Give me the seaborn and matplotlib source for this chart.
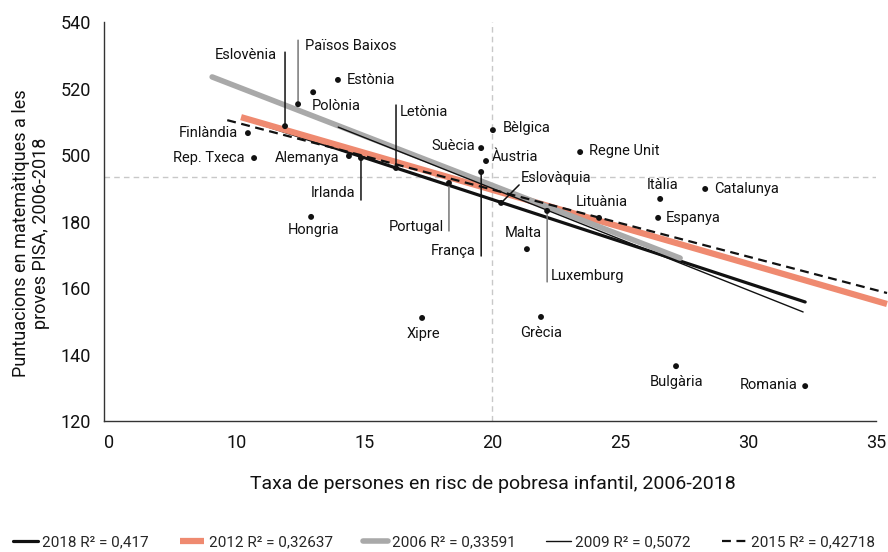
import pandas as pd
import seaborn as sns
import matplotlib.pyplot as plt
from matplotlib.ticker import FixedLocator

# punts: taxa de risc de pobresa infantil vs puntuació PISA matemàtiques
countries = ["Eslovènia", "Països Baixos", "Polònia", "Estònia", "Letònia", "Finlàndia",
             "Rep. Txeca", "Alemanya", "Irlanda", "Hongria", "Xipre", "Portugal", "França",
             "Suècia", "Àustria", "Bèlgica", "Eslovàquia", "Malta", "Luxemburg", "Grècia",
             "Regne Unit", "Lituània", "Itàlia", "Espanya", "Catalunya", "Bulgària", "Romania"]
poverty = [11.89, 12.40, 12.99, 13.96, 16.23, 10.44,
           10.68, 14.39, 14.86, 12.91, 17.25, 18.30, 19.56,
           19.56, 19.75, 20.02, 20.34, 21.35, 22.14, 21.90,
           23.43, 24.17, 26.56, 26.48, 28.32, 27.18, 32.23]
pisa = [508.7, 515.3, 518.9, 522.6, 496.1, 506.6,
        499.1, 499.7, 499.1, 481.4, 451.0, 491.6, 494.9,
        502.1, 498.2, 507.5, 485.6, 471.7, 483.2, 451.3,
        500.9, 481.1, 486.8, 481.1, 489.8, 436.5, 430.5]

# línies de tendència (extrems)
trend_years = ["2018", "2012", "2006", "2009", "2015"]
trend_r2 = ["0,417", "0,32637", "0,33591", "0,5072", "0,42718"]
trend_x0 = [10.52, 10.17, 9.04, 13.97, 9.63]
trend_x1 = [32.23, 35.43, 27.34, 32.15, 35.43]
trend_y0 = [510.5, 511.4, 523.5, 508.4, 510.5]
trend_y1 = [455.8, 455.2, 469.0, 452.8, 458.5]

# mitjanes (línies discontínues grises)
mean_x = 20.0
mean_y = 493.4

x_ticks = [5, 10, 15, 20, 25, 30, 35]
x_tick_labels = ["0", "10", "15", "20", "25", "30", "35"]
y_ticks = [420, 440, 460, 480, 500, 520, 540]
y_tick_labels = ["120", "140", "160", "180", "500", "520", "540"]

# estils
trend_style = {
    "2018": dict(color="#111111", lw=2.3, ls="-"),
    "2012": dict(color="#ef8a70", lw=4.5, ls="-", solid_capstyle="butt"),
    "2006": dict(color="#a9a9a9", lw=4.0, ls="-", solid_capstyle="round"),
    "2009": dict(color="#111111", lw=1.0, ls="-"),
    "2015": dict(color="#111111", lw=1.6, ls=(0, (4, 2.5))),
}
# (dx, dy, ha, leader end, leader colour) en píxels
label_pos = {
    "Eslovènia": (-8, 71, "right", (0, 74), "#111111"),
    "Països Baixos": (7, 58, "left", (0, 64), "#777777"),
    "Polònia": (-1, -14, "left", None, None),
    "Estònia": (9, 0, "left", None, None),
    "Letònia": (4, 56, "left", (0, 63), "#111111"),
    "Finlàndia": (-10, 0, "right", None, None),
    "Rep. Txeca": (-9, 0, "right", None, None),
    "Alemanya": (-9, -2, "right", None, None),
    "Irlanda": (-6, -35, "right", (0, -42), "#111111"),
    "Hongria": (2, -13, "center", None, None),
    "Xipre": (1, -16, "center", None, None),
    "Portugal": (-5, -44, "right", (0, -48), "#777777"),
    "França": (-6, -79, "right", (0, -84), "#111111"),
    "Suècia": (-6, 2, "right", None, None),
    "Àustria": (6, 4, "left", None, None),
    "Bèlgica": (10, 2, "left", None, None),
    "Eslovàquia": (20, 25, "left", (18, 18), "#111111"),
    "Malta": (-4, 16, "center", None, None),
    "Luxemburg": (4, -65, "left", (0, -71), "#777777"),
    "Grècia": (0, -16, "center", None, None),
    "Regne Unit": (9, 1, "left", None, None),
    "Lituània": (3, 16, "center", None, None),
    "Itàlia": (2, 14, "center", None, None),
    "Espanya": (8, 0, "left", None, None),
    "Catalunya": (9, 0, "left", None, None),
    "Bulgària": (1, -16, "center", None, None),
    "Romania": (-8, 1, "right", None, None),
}

sns.set_theme(style="white")
plt.rcParams["font.family"] = ["Roboto", "DejaVu Sans"]

df = pd.DataFrame({"pais": countries, "pobresa": poverty, "pisa": pisa})

fig = plt.figure(figsize=(8.88, 5.52), dpi=100)
ax = fig.add_axes([0.1168, 0.2373, 0.8697, 0.7227])

ax.axhline(mean_y, color="#c8c8c8", lw=1, ls=(0, (4, 3)), zorder=0)
ax.axvline(mean_x, color="#c8c8c8", lw=1, ls=(0, (4, 3)), zorder=0)

for yr, r2, x0, x1, y0, y1 in zip(trend_years, trend_r2, trend_x0, trend_x1, trend_y0, trend_y1):
    sns.lineplot(x=[x0, x1], y=[y0, y1], ax=ax, label=f"{yr} R² = {r2}",
                 clip_on=False, zorder=2, **trend_style[yr])

sns.scatterplot(data=df, x="pobresa", y="pisa", ax=ax, color="#111111", s=18,
                edgecolor="none", zorder=4, legend=False)

for name, x, y in zip(countries, poverty, pisa):
    dx, dy, ha, leader, lc = label_pos[name]
    if leader is not None:
        ax.annotate("", xy=(x, y), xytext=leader, textcoords="offset pixels",
                    arrowprops=dict(arrowstyle="-", color=lc, lw=1.1, shrinkA=0, shrinkB=0),
                    zorder=3)
    ax.annotate(name, xy=(x, y), xytext=(dx, dy), textcoords="offset pixels",
                ha=ha, va="center", fontsize=10.5, color="#111111", zorder=5)

ax.set_xlim(4.8, 35)
ax.set_ylim(420, 540)
ax.set_xticks(x_ticks, x_tick_labels)
ax.set_yticks(y_ticks, y_tick_labels)
ax.xaxis.set_minor_locator(FixedLocator([20, 35]))
ax.yaxis.set_minor_locator(FixedLocator([540]))
ax.tick_params(which="major", length=0, labelsize=13, colors="#111111")
ax.tick_params(axis="x", which="major", pad=9)
ax.tick_params(axis="y", which="major", pad=9)
ax.tick_params(which="minor", length=5, width=1, color="#333333")
ax.set_xlabel("")
ax.set_ylabel("")
sns.despine(ax=ax)
for s in ["left", "bottom"]:
    ax.spines[s].set_color("#333333")
    ax.spines[s].set_linewidth(1)

fig.text(493 / 888, 1 - 484 / 552, "Taxa de persones en risc de pobresa infantil, 2006-2018",
         ha="center", va="center", fontsize=14, color="#111111")
fig.text(31 / 888, 1 - 233 / 552, "Puntuacions en matemàtiques a les\nproves PISA, 2006-2018",
         ha="center", va="center", rotation=90, fontsize=13, color="#111111",
         multialignment="center", linespacing=1.1)

handles, labels = ax.get_legend_handles_labels()
ax.legend_.remove()
fig.legend(handles, labels, loc="center", bbox_to_anchor=(0.5, 1 - 542 / 552), ncol=5,
           frameon=False, fontsize=11, handlelength=1.6, handletextpad=0.3,
           columnspacing=2.0, borderaxespad=0)

fig.savefig("out.png", dpi=100)
